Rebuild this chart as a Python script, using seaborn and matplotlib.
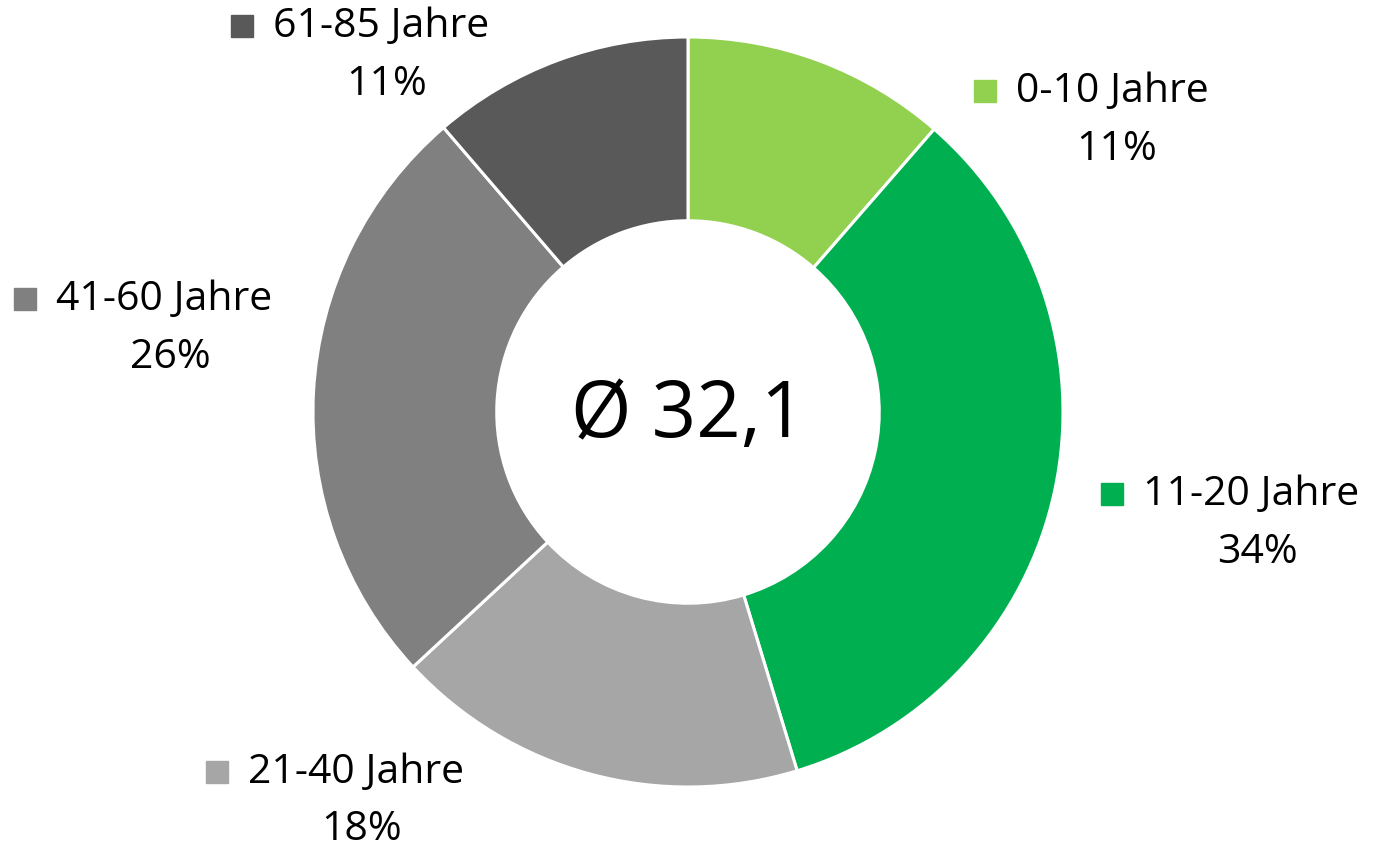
import matplotlib
matplotlib.use("Agg")
import matplotlib.pyplot as plt
import seaborn as sns

# data
groups = ["0-10 Jahre", "11-20 Jahre", "21-40 Jahre", "41-60 Jahre", "61-85 Jahre"]
shares = [11.4, 33.9, 17.8, 25.6, 11.3]
pct_labels = ["11%", "34%", "18%", "26%", "11%"]
colors = ["#92D050", "#00B050", "#A6A6A6", "#808080", "#595959"]
center_text = "Ø 32,1"

# label layout in pixel coords (square x, text left x, line1 y, pct center x, pct y)
label_pos = [
    (985, 1016, 92, 1117, 150),
    (1112, 1143, 495, 1257, 553),
    (217, 248, 773, 362, 830),
    (25, 56, 300, 170, 358),
    (242, 273, 27, 387, 85),
]

sns.set_theme(style="white")
plt.rcParams["font.family"] = ["Open Sans", "DejaVu Sans"]

W, H = 1378, 854
fig = plt.figure(figsize=(W / 100, H / 100), dpi=100)
ax = fig.add_axes([0, 0, 1, 1])

cx, cy, r = 688, H - 413, 375
ax.pie(shares, colors=colors, startangle=90, counterclock=False,
       center=(cx, cy), radius=r, frame=True,
       wedgeprops=dict(width=r * 0.49, edgecolor="white", linewidth=2.2))
ax.set_xlim(0, W)
ax.set_ylim(0, H)
ax.set_aspect("equal")
ax.axis("off")

ax.text(cx, cy - 4, center_text, ha="center", va="center", fontsize=56, color="black")

for g, p, c, (sx, tx, ty, px, py) in zip(groups, pct_labels, colors, label_pos):
    ax.plot(sx, H - ty, marker="s", markersize=16, color=c, linestyle="none")
    ax.text(tx, H - ty, g, ha="left", va="center", fontsize=29.5, color="black")
    ax.text(px, H - py, p, ha="center", va="center", fontsize=29.5, color="black")

fig.savefig("out.png", dpi=100)
